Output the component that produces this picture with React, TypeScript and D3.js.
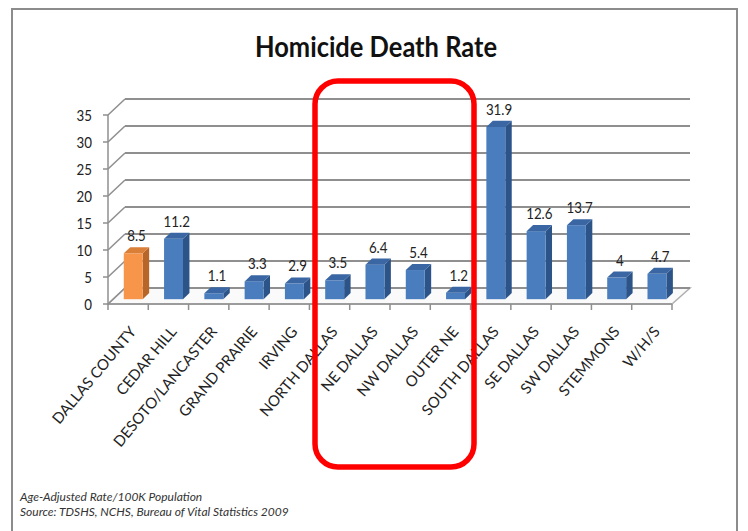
import React from "react";
import * as d3 from "d3";

const categories = [
  "DALLAS COUNTY",
  "CEDAR HILL",
  "DESOTO/LANCASTER",
  "GRAND PRAIRIE",
  "IRVING",
  "NORTH DALLAS",
  "NE DALLAS",
  "NW DALLAS",
  "OUTER NE",
  "SOUTH DALLAS",
  "SE DALLAS",
  "SW DALLAS",
  "STEMMONS",
  "W/H/S",
];
const values = [8.5, 11.2, 1.1, 3.3, 2.9, 3.5, 6.4, 5.4, 1.2, 31.9, 12.6, 13.7, 4, 4.7];
const highlighted = ["DALLAS COUNTY"];
const yTicks = [0, 5, 10, 15, 20, 25, 30, 35];
const title = "Homicide Death Rate";
const footnotes = [
  "Age-Adjusted Rate/100K Population",
  "Source: TDSHS, NCHS, Bureau of Vital Statistics 2009",
];

const W = 748;
const H = 531;
const DX = 17;
const DY = -16;
const FONT = "Lato, 'Open Sans', sans-serif";

const BLUE = { front: "#4a7dbd", side: "#2d5488", top: "#3a67a3" };
const ORANGE = { front: "#f7964a", side: "#b8652a", top: "#d97f37" };

export default function App() {
  const x = d3.scaleBand<string>().domain(categories).range([108, 672]);
  const y = d3.scaleLinear().domain([0, 35]).range([304, 115]);
  const bw = x.bandwidth();
  const fd = 0.3;
  const bd = 0.38;
  const ddx = DX * bd;
  const ddy = DY * bd;
  const axisLeft = x.range()[0];
  const axisRight = x.range()[1];
  const gridColor = "#8f8f8f";

  return (
    <svg
      width={W}
      height={H}
      style={{ position: "absolute", left: 0, top: 0, background: "#fff" }}
      fontFamily={FONT}
    >
      <rect x={0} y={0} width={W} height={H} fill="#fff" />
      {/* slide frame */}
      <path d={`M12,${H} L12,9 L737,9 L737,${H}`} fill="none" stroke="#8c8c8c" strokeWidth={2} />

      {/* title */}
      <text
        x={376}
        y={57}
        textAnchor="middle"
        fontSize={29}
        fontWeight={700}
        fill="#111"
        textLength={242}
        lengthAdjust="spacingAndGlyphs"
      >
        {title}
      </text>

      {/* floor */}
      <polygon
        points={`${axisLeft},${y(0)} ${axisRight},${y(0)} ${axisRight + DX + 1},${y(0) + DY} ${axisLeft + DX},${y(0) + DY}`}
        fill="#fafafa"
        stroke="#b0b0b0"
        strokeWidth={1.5}
      />

      {/* back wall gridlines + side wall diagonals */}
      {yTicks.map((t) => (
        <g key={"g" + t}>
          <line
            x1={axisLeft + DX}
            x2={axisRight + DX + 1}
            y1={y(t) + DY}
            y2={y(t) + DY}
            stroke={gridColor}
            strokeWidth={2}
          />
          <line x1={axisLeft} y1={y(t)} x2={axisLeft + DX} y2={y(t) + DY} stroke={gridColor} strokeWidth={1.5} />
          <line x1={axisLeft - 5} x2={axisLeft} y1={y(t)} y2={y(t)} stroke={gridColor} strokeWidth={1.5} />
          <text
            transform={`translate(92, ${y(t)}) scale(0.86, 1)`}
            dy="0.36em"
            textAnchor="end"
            fontSize={15.5}
            fill="#222"
          >
            {t}
          </text>
        </g>
      ))}

      {/* y axis line */}
      <line x1={axisLeft} x2={axisLeft} y1={y(0)} y2={y(35)} stroke={gridColor} strokeWidth={1.5} />
      {/* x axis line */}
      <line x1={axisLeft} x2={axisRight} y1={y(0)} y2={y(0)} stroke={gridColor} strokeWidth={1.5} />
      {[...categories.map((c) => x(c) as number), axisRight].map((p, i) => (
        <line key={"t" + i} x1={p} x2={p} y1={y(0)} y2={y(0) + 6} stroke={gridColor} strokeWidth={1.5} />
      ))}

      {/* bars */}
      {categories.map((c, i) => {
        const v = values[i];
        const col = highlighted.includes(c) ? ORANGE : BLUE;
        const w = bw * 0.47;
        const x0 = (x(c) as number) + bw * 0.265 + DX * fd;
        const yTop = y(v) + DY * fd;
        const yBot = y(0) + DY * fd;
        const lx = x0 + w / 2 + ddx / 2;
        const ly = yTop + ddy - 6;
        return (
          <g key={c}>
            <polygon
              points={`${x0 + w},${yBot} ${x0 + w},${yTop} ${x0 + w + ddx},${yTop + ddy} ${x0 + w + ddx},${yBot + ddy}`}
              fill={col.side}
            />
            <rect x={x0} y={yTop} width={w} height={yBot - yTop} fill={col.front} />
            <polygon
              points={`${x0},${yTop} ${x0 + w},${yTop} ${x0 + w + ddx},${yTop + ddy} ${x0 + ddx},${yTop + ddy}`}
              fill={col.top}
            />
            <text
              transform={`translate(${lx}, ${ly}) scale(0.86, 1)`}
              textAnchor="middle"
              fontSize={15.5}
              fill="#222"
            >
              {String(v)}
            </text>
          </g>
        );
      })}

      {/* category labels */}
      {categories.map((c) => {
        const cx = (x(c) as number) + bw / 2 + 9;
        const cy = 332;
        return (
          <text
            key={"l" + c}
            x={cx}
            y={cy}
            textAnchor="end"
            fontSize={15}
            fill="#222"
            transform={`rotate(-50, ${cx}, ${cy})`}
          >
            {c}
          </text>
        );
      })}

      {/* footnotes */}
      {footnotes.map((f, i) => (
        <text key={"f" + i} x={20} y={501 + i * 15} fontSize={12} fontStyle="italic" fill="#333">
          {f}
        </text>
      ))}

      {/* red highlight box */}
      <rect x={315} y={81} width={159} height={386} rx={23} ry={23} fill="none" stroke="#ff0000" strokeWidth={5.5} />
    </svg>
  );
}
